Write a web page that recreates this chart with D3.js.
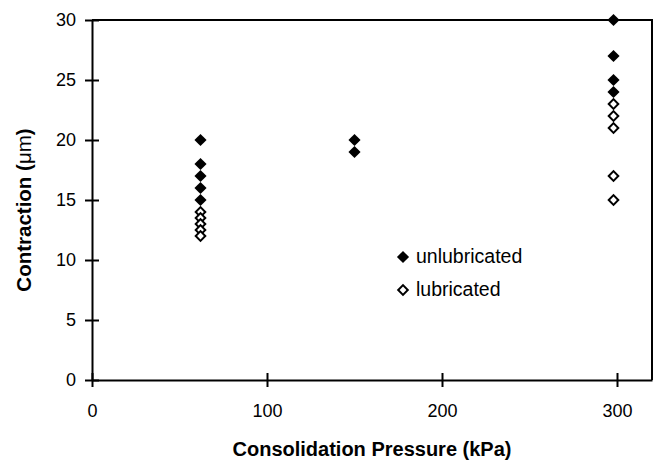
<!DOCTYPE html>
<html>
<head>
<meta charset="utf-8">
<script src="https://cdn.jsdelivr.net/npm/d3@7"></script>
<style>
  body { margin: 0; background: #fff; }
  svg { display: block; font-family: "Liberation Sans", Arial, sans-serif; }
</style>
</head>
<body>
<svg id="chart" width="657" height="461"></svg>
<script>
// data
var unlubPressure    = [62, 62, 62, 62, 62, 150, 150, 298, 298, 298, 298];
var unlubContraction = [20, 18, 17, 16, 15, 20, 19, 30, 27, 25, 24];
var lubPressure      = [62, 62, 62, 62, 62, 298, 298, 298, 298, 298];
var lubContraction   = [14, 13.5, 13, 12.5, 12, 23, 22, 21, 17, 15];
var xTicks = [0, 100, 200, 300];
var yTicks = [0, 5, 10, 15, 20, 25, 30];
var legendLabels = ["unlubricated", "lubricated"];

var svg = d3.select('#chart');

var x = d3.scaleLinear().domain([0, 320]).range([92, 652]);
var y = d3.scaleLinear().domain([0, 30]).range([380, 20]);

// frame (top and right)
svg.append('path')
  .attr('d', 'M' + x(0) + ',' + y(30) + 'H' + x(320) + 'V' + y(0))
  .attr('fill', 'none')
  .attr('stroke', '#000')
  .attr('stroke-width', 2);

// y axis, ticks crossing the line
var yAxis = svg.append('g')
  .attr('transform', 'translate(' + x(0) + ',0)')
  .call(d3.axisLeft(y).tickValues(yTicks).tickSize(7).tickSizeOuter(0).tickPadding(9));
yAxis.selectAll('.tick line').attr('x1', 7);

// x axis
var xAxis = svg.append('g')
  .attr('transform', 'translate(0,' + y(0) + ')')
  .call(d3.axisBottom(x).tickValues(xTicks).tickSize(7).tickSizeOuter(0).tickPadding(17));
xAxis.selectAll('.tick line').attr('y1', -7);

svg.selectAll('.domain').attr('stroke-width', 2);
svg.selectAll('.tick line').attr('stroke-width', 2);
svg.selectAll('.tick text')
  .attr('font-family', '"Liberation Sans", Arial, sans-serif')
  .attr('font-size', 18)
  .attr('fill', '#000');

// axis titles
svg.append('text')
  .attr('x', 372)
  .attr('y', 456)
  .attr('text-anchor', 'middle')
  .attr('font-size', 20)
  .attr('font-weight', 'bold')
  .text('Consolidation Pressure (kPa)');

var yTitle = svg.append('text')
  .attr('transform', 'translate(31,210) rotate(-90)')
  .attr('text-anchor', 'middle')
  .attr('font-size', 20.5)
  .attr('font-weight', 'bold');
yTitle.append('tspan').text('Contraction (');
yTitle.append('tspan').attr('font-weight', 'normal').text('μm');
yTitle.append('tspan').text(')');

// diamonds
var filled = d3.symbol().type(d3.symbolSquare).size(74);
var open = d3.symbol().type(d3.symbolSquare).size(46);

svg.append('g').selectAll('path')
  .data(d3.range(lubPressure.length))
  .enter()
  .append('path')
  .attr('d', open)
  .attr('transform', function(i) { return 'translate(' + x(lubPressure[i]) + ',' + y(lubContraction[i]) + ') rotate(45)'; })
  .attr('fill', '#fff')
  .attr('stroke', '#000')
  .attr('stroke-width', 2);

svg.append('g').selectAll('path')
  .data(d3.range(unlubPressure.length))
  .enter()
  .append('path')
  .attr('d', filled)
  .attr('transform', function(i) { return 'translate(' + x(unlubPressure[i]) + ',' + y(unlubContraction[i]) + ') rotate(45)'; })
  .attr('fill', '#000');

// legend
var legend = svg.append('g').selectAll('g')
  .data(legendLabels)
  .enter()
  .append('g')
  .attr('transform', function(d, i) { return 'translate(403,' + (257 + i * 33) + ')'; });

legend.append('path')
  .attr('d', function(d, i) { return i === 0 ? filled() : open(); })
  .attr('transform', 'rotate(45)')
  .attr('fill', function(d, i) { return i === 0 ? '#000' : '#fff'; })
  .attr('stroke', function(d, i) { return i === 0 ? 'none' : '#000'; })
  .attr('stroke-width', 2);

legend.append('text')
  .attr('x', 13)
  .attr('y', 6)
  .attr('font-size', 19.5)
  .text(function(d) { return d; });
</script>
</body>
</html>
